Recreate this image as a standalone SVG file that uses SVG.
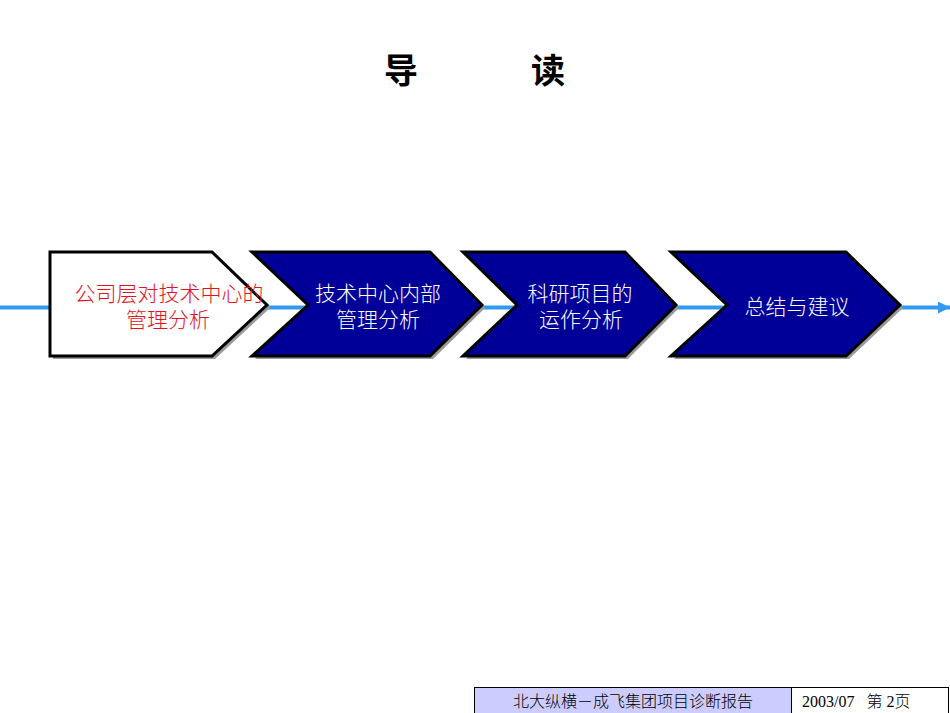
<svg xmlns="http://www.w3.org/2000/svg" width="950" height="713" viewBox="0 0 950 713">
<style>
.shape{stroke:#000;stroke-width:3;stroke-linejoin:miter}
.shadow{fill:#9a9a9a}
.navy{fill:#000099}
.t{font-family:"Noto Sans CJK SC",sans-serif;font-weight:300;text-anchor:middle}
.w{fill:#ffffff;font-size:21px}
.r{fill:#e0141e;font-size:21px}
.ft{font-family:"Liberation Serif","Noto Sans CJK SC",serif;font-weight:300;font-size:16px;fill:#000}
</style>
<defs>
<marker id="ah" markerWidth="12" markerHeight="12" refX="12" refY="6" orient="auto" markerUnits="userSpaceOnUse">
<path d="M0,0 L12,6 L0,12 Z" fill="#3399ee"/>
</marker>
</defs>
<rect width="950" height="713" fill="#ffffff"/>
<g id="title">
<text x="401" y="83" font-family="'Noto Sans CJK SC',sans-serif" font-weight="bold" font-size="34" text-anchor="middle">导</text>
<text x="548" y="83" font-family="'Noto Sans CJK SC',sans-serif" font-weight="bold" font-size="34" text-anchor="middle">读</text>
</g>
<g id="connectors">
<line x1="0" y1="307.5" x2="950" y2="307.5" stroke="#3399ee" stroke-width="4" marker-end="url(#ah)"/>
</g>
<g id="node1">
<polygon class="shadow" points="53,255 215,255 270,308 215,359 53,359"/>
<polygon class="shape" fill="#ffffff" points="50,252 212,252 267,305 212,356 50,356"/>
<text class="t r" x="169" y="301">公司层对技术中心的</text>
<text class="t r" x="168" y="327">管理分析</text>
</g>
<g id="node2">
<polygon class="shadow" points="255,255 433,255 485,308 433,359 255,359 311,308"/>
<polygon class="shape navy" points="252,252 430,252 482,305 430,356 252,356 308,305"/>
<text class="t w" x="378" y="301">技术中心内部</text>
<text class="t w" x="378" y="327">管理分析</text>
</g>
<g id="node3">
<polygon class="shadow" points="466,255 628,255 679,308 628,359 466,359 520,308"/>
<polygon class="shape navy" points="463,252 625,252 676,305 625,356 463,356 517,305"/>
<text class="t w" x="580" y="301">科研项目的</text>
<text class="t w" x="581" y="327">运作分析</text>
</g>
<g id="node4">
<polygon class="shadow" points="674,255 849,255 903,308 849,359 674,359 730,308"/>
<polygon class="shape navy" points="671,252 846,252 900,305 846,356 671,356 727,305"/>
<text class="t w" x="797" y="314" font-size="23.5">总结与建议</text>
</g>
<g id="footer">
<rect x="474.5" y="687.5" width="317" height="30" fill="#ccccff" stroke="#000" stroke-width="1"/>
<rect x="791.5" y="687.5" width="157" height="30" fill="#ffffff" stroke="#000" stroke-width="1"/>
<text class="ft" x="633" y="707" text-anchor="middle">北大纵横－成飞集团项目诊断报告</text>
<text class="ft" x="802" y="707" xml:space="preserve">2003/07   第 2页</text>
</g>
</svg>
